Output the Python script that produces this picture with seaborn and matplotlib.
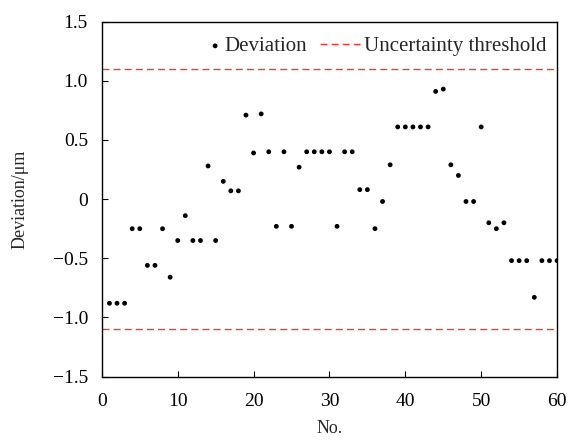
import pandas as pd
import matplotlib.pyplot as plt
import seaborn as sns
from matplotlib.legend_handler import HandlerPathCollection

# measurement data
no = list(range(1, 61))
deviation = [-0.88, -0.88, -0.88, -0.25, -0.25, -0.56, -0.56, -0.25, -0.66, -0.35,
             -0.14, -0.35, -0.35, 0.28, -0.35, 0.15, 0.07, 0.07, 0.71, 0.39,
             0.72, 0.40, -0.23, 0.40, -0.23, 0.27, 0.40, 0.40, 0.40, 0.40,
             -0.23, 0.40, 0.40, 0.08, 0.08, -0.25, -0.02, 0.29, 0.61, 0.61,
             0.61, 0.61, 0.61, 0.91, 0.93, 0.29, 0.20, -0.02, -0.02, 0.61,
             -0.20, -0.25, -0.20, -0.52, -0.52, -0.52, -0.83, -0.52, -0.52, -0.52]
threshold = 1.1
yticks = [-1.5, -1.0, -0.5, 0, 0.5, 1.0, 1.5]
ytick_labels = ['\u22121.5', '\u22121.0', '\u22120.5', '0', '0.5', '1.0', '1.5']

df = pd.DataFrame({'No.': no, 'Deviation': deviation})


class DotRight(HandlerPathCollection):
    # put the legend dot close to its text
    def get_xdata(self, legend, xdescent, ydescent, width, height, fontsize):
        xd = [-xdescent + width - 3.6]
        return xd, xd


sns.set_style('ticks')
plt.rcParams['font.family'] = ['Liberation Serif', 'DejaVu Serif']

fig = plt.figure(figsize=(5.69, 4.41), dpi=100)
ax = fig.add_axes([0.179, 0.146, 0.800, 0.805])

sns.scatterplot(data=df, x='No.', y='Deviation', ax=ax, color='black', s=12,
                edgecolor='none', label='Deviation', zorder=3)
ax.axhline(threshold, color='#ff3333', lw=1.0, ls=(0, (5, 3)), label='Uncertainty threshold')
ax.axhline(-threshold, color='#ff3333', lw=1.0, ls=(0, (5, 3)))

ax.set_xlim(0, 60)
ax.set_ylim(-1.5, 1.5)
ax.set_xticks(range(0, 61, 10))
ax.set_yticks(yticks)
ax.set_yticklabels(ytick_labels)
ax.tick_params(direction='in', length=4, width=0.8, labelsize=14, colors='black', pad=10)
ax.tick_params(axis='x', pad=12)
for sp in ax.spines.values():
    sp.set_visible(True)
    sp.set_linewidth(1.0)
    sp.set_color('black')

ax.set_xlabel('No.', fontsize=13, labelpad=7)
ax.set_ylabel('Deviation/\u03bcm', fontsize=13, labelpad=17)

handles, labels = ax.get_legend_handles_labels()
ax.legend(handles, labels, loc='upper right', bbox_to_anchor=(0.991, 0.975),
          ncol=2, frameon=False, fontsize=15,
          handlelength=1.9, handletextpad=0.2, columnspacing=0.65,
          borderaxespad=0, borderpad=0.3,
          handler_map={type(handles[0]): DotRight()})

fig.savefig('out.png', dpi=100)
